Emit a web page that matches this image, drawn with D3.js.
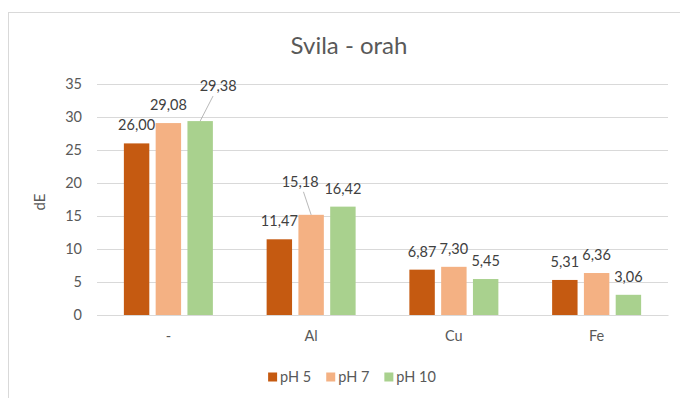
<!DOCTYPE html>
<html>
<head>
<meta charset="utf-8">
<script src="https://cdn.jsdelivr.net/npm/d3@7"></script>
<style>
  body { margin: 0; background: #fff; }
  svg { display: block; font-family: Lato, "Open Sans", sans-serif; }
</style>
</head>
<body>
<div id="chart"></div>
<script>
// data
var categories = ["-", "Al", "Cu", "Fe"];
var seriesNames = ["pH 5", "pH 7", "pH 10"];
var ph5 = [26.00, 11.47, 6.87, 5.31];
var ph7 = [29.08, 15.18, 7.30, 6.36];
var ph10 = [29.38, 16.42, 5.45, 3.06];
var yTicks = [0, 5, 10, 15, 20, 25, 30, 35];
var colors = ["#C55A11", "#F4B183", "#A9D18E"];

// a couple of labels were dragged away from the bar in the original (with leader lines)
var labelNudge = {"2-0": [18, -17], "1-1": [-11, -15]};

var width = 680, height = 398;
var margin = {top: 84, left: 97};
var plotRight = 668, plotBottom = 315;
var fontSize = 14.5;

var svg = d3.select("#chart").append("svg")
    .attr("width", width)
    .attr("height", height);

svg.append("rect")
    .attr("width", width).attr("height", height)
    .attr("fill", "#fff");

// chart area outline (cut off at right/bottom in the screenshot)
svg.append("rect")
    .attr("x", 8.5).attr("y", 12.5)
    .attr("width", 700).attr("height", 400)
    .attr("fill", "none")
    .attr("stroke", "#d9d9d9");

svg.append("text")
    .attr("x", 349).attr("y", 54)
    .attr("text-anchor", "middle")
    .attr("font-size", 24)
    .attr("fill", "#595959")
    .text("Svila - orah");

var y = d3.scaleLinear().domain([0, 35]).range([plotBottom, margin.top]);
var x0 = d3.scaleBand().domain(categories).range([margin.left, plotRight]);
var x1 = d3.scaleBand().domain(d3.range(seriesNames.length))
    .range([0, 89]).paddingInner(0.2).paddingOuter(0);

// gridlines + y tick labels
var yAxis = svg.append("g")
    .attr("transform", "translate(" + margin.left + ",0)")
    .call(d3.axisLeft(y).tickValues(yTicks)
        .tickSize(-(plotRight - margin.left)).tickPadding(15));
yAxis.select(".domain").remove();
yAxis.selectAll(".tick line").attr("stroke", "#d9d9d9");
yAxis.selectAll(".tick text")
    .attr("fill", "#595959").attr("font-size", fontSize)
    .attr("font-family", "Lato, sans-serif");

svg.append("text")
    .attr("transform", "translate(45,202) rotate(-90)")
    .attr("text-anchor", "middle")
    .attr("font-size", 15)
    .attr("fill", "#595959")
    .text("dE");

var series = [ph5, ph7, ph10];
var bars = [];
series.forEach(function(vals, s) {
  vals.forEach(function(v, c) {
    bars.push({s: s, c: c, value: v});
  });
});

function barX(d) {
  return x0(categories[d.c]) + (x0.bandwidth() - 89) / 2 + x1(d.s);
}

svg.append("g").selectAll("rect")
    .data(bars)
    .enter().append("rect")
    .attr("x", barX)
    .attr("y", function(d) { return y(d.value); })
    .attr("width", x1.bandwidth())
    .attr("height", function(d) { return y(0) - y(d.value); })
    .attr("fill", function(d) { return colors[d.s]; });

// category axis
var xAxis = svg.append("g")
    .attr("transform", "translate(0," + plotBottom + ")")
    .call(d3.axisBottom(x0).tickSize(0).tickPadding(16));
xAxis.select(".domain").attr("stroke", "#d9d9d9");
xAxis.selectAll(".tick text")
    .attr("fill", "#595959").attr("font-size", fontSize)
    .attr("font-family", "Lato, sans-serif");

// data labels
function labelPos(d) {
  var cx = barX(d) + x1.bandwidth() / 2;
  var cy = y(d.value) - 18;
  var n = labelNudge[d.s + "-" + d.c];
  if (n) { cx += n[0]; cy += n[1]; }
  return [cx, cy];
}

var leaders = bars.filter(function(d) { return labelNudge[d.s + "-" + d.c]; });
svg.append("g").selectAll("line")
    .data(leaders)
    .enter().append("line")
    .attr("x1", function(d) {
      var p = labelPos(d), bx = barX(d) + x1.bandwidth() / 2, by = y(d.value);
      var t = (by - (p[1] + 10)) / (by - p[1]);
      return bx + (p[0] - bx) * t;
    })
    .attr("y1", function(d) { return labelPos(d)[1] + 10; })
    .attr("x2", function(d) { return barX(d) + x1.bandwidth() / 2; })
    .attr("y2", function(d) { return y(d.value); })
    .attr("stroke", "#a6a6a6")
    .attr("stroke-width", 0.8);

svg.append("g").selectAll("text")
    .data(bars)
    .enter().append("text")
    .attr("x", function(d) { return labelPos(d)[0]; })
    .attr("y", function(d) { return labelPos(d)[1]; })
    .attr("dy", "0.35em")
    .attr("text-anchor", "middle")
    .attr("font-size", fontSize)
    .attr("fill", "#404040")
    .text(function(d) { return d.value.toFixed(2).replace(".", ","); });

// legend
var legend = svg.append("g").attr("transform", "translate(0,377)");
var items = legend.selectAll("g")
    .data(seriesNames)
    .enter().append("g");
items.append("rect")
    .attr("y", -4.5).attr("width", 9).attr("height", 9)
    .attr("fill", function(d, i) { return colors[i]; });
items.append("text")
    .attr("x", 12).attr("dy", "0.35em")
    .attr("font-size", fontSize)
    .attr("fill", "#595959")
    .text(function(d) { return d; });

var xpos = 0, offsets = [];
items.each(function() {
  offsets.push(xpos);
  xpos += 12 + this.querySelector("text").getComputedTextLength() + 15;
});
var total = xpos - 15;
var start = 352 - total / 2;
items.attr("transform", function(d, i) { return "translate(" + (start + offsets[i]) + ",0)"; });
</script>
</body>
</html>
